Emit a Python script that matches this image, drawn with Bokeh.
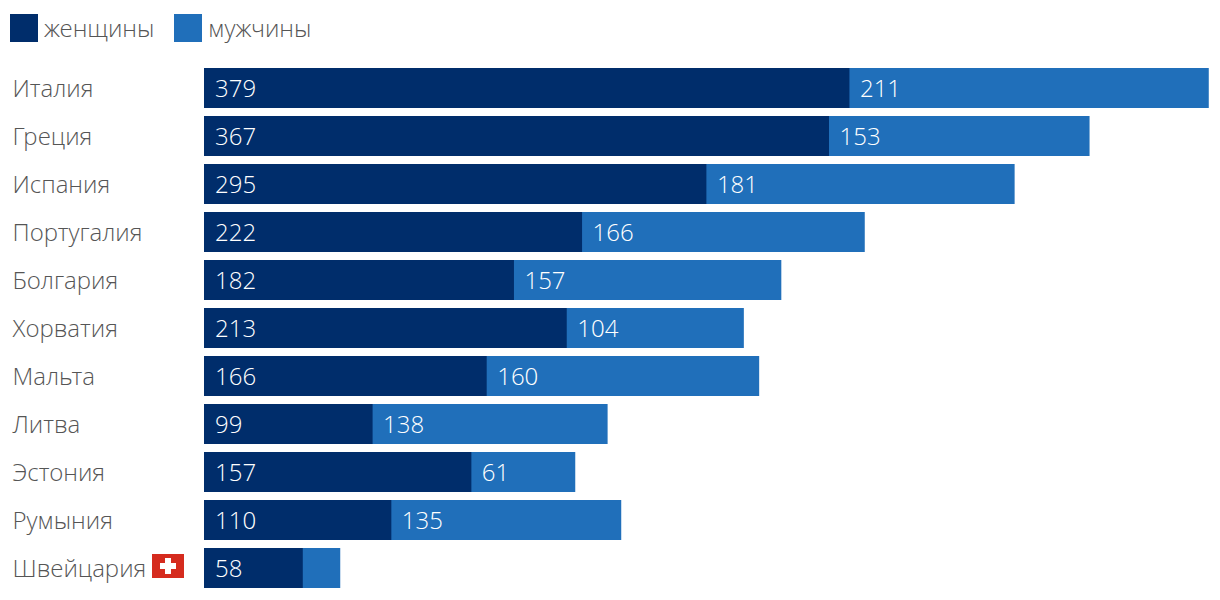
from bokeh.plotting import figure
from bokeh.models import ColumnDataSource, Range1d, Legend, LegendItem, BoxAnnotation
from bokeh.core.properties import value
from bokeh.embed import file_html
from bokeh.resources import INLINE

countries = ["Италия", "Греция", "Испания", "Португалия", "Болгария", "Хорватия",
             "Мальта", "Литва", "Эстония", "Румыния", "Швейцария"]
women = [379, 367, 295, 222, 182, 213, 166, 99, 157, 110, 58]
men = [211, 153, 181, 166, 157, 104, 160, 138, 61, 135, 22]
men_labels = ["211", "153", "181", "166", "157", "104", "160", "138", "61", "135", ""]
series_names = ["женщины", "мужчины"]

DARK = "#002D6B"
BLUE = "#206FBA"
TEXT = "#555555"
FONT_NAME = "Open Sans Light"
FONT = value(FONT_NAME)
W, H = 1212, 592

rows = list(range(len(countries)))
src = ColumnDataSource(dict(
    row=rows, name=countries, women=women, men=men,
    total=[a + b for a, b in zip(women, men)],
    women_label=[str(v) for v in women], men_label=men_labels,
))

scale = 1.703
# the SVG backend draws with a half-pixel translate, hence the 203.5 / 87.5 origins
p = figure(width=W, height=H, output_backend="svg", toolbar_location=None,
           x_range=Range1d(-203.5 / scale, (W - 203.5) / scale),
           y_range=Range1d((H - 87.5) / 48, -87.5 / 48),
           min_border=0, outline_line_color=None)
p.axis.visible = False
p.grid.visible = False

# the men's bar is painted under the women's one so that no seam shows between them
r2 = p.hbar(y="row", left=0, right="total", height=40 / 48, fill_color=BLUE, line_color=None, source=src)
r1 = p.hbar(y="row", left=0, right="women", height=40 / 48, fill_color=DARK, line_color=None, source=src)

p.text(x=0, y="row", text="name", x_offset=-191.5, y_offset=-1, text_baseline="middle", text_align="left",
       text_font=FONT, text_font_size="24px", text_color=TEXT, source=src)
p.text(x=0, y="row", text="women_label", x_offset=11, text_baseline="middle", text_align="left",
       text_font=FONT, text_font_size="24px", text_color="white", source=src)
p.text(x="women", y="row", text="men_label", x_offset=10.5, text_baseline="middle", text_align="left",
       text_font=FONT, text_font_size="24px", text_color="white", source=src)

legend = Legend(items=[LegendItem(label=series_names[0], renderers=[r1]),
                       LegendItem(label=series_names[1], renderers=[r2])],
                orientation="horizontal", location=(6, H - 44.5), margin=0, padding=0,
                spacing=16, glyph_width=35, glyph_height=35, label_standoff=3,
                label_text_font=FONT_NAME, label_text_font_size="24px",
                label_text_color=TEXT, border_line_color=None, background_fill_alpha=0)
p.add_layout(legend)

# Swiss flag beside the last label
for l, r, t, b, c in [(152, 184, 554, 578, "#D52B1E"),
                      (160, 176, 563, 569, "white"),
                      (165, 171, 558, 574, "white")]:
    p.add_layout(BoxAnnotation(left=l - 0.5, right=r - 0.5, top=H - t + 0.5, bottom=H - b + 0.5,
                               left_units="screen", right_units="screen",
                               top_units="screen", bottom_units="screen", fill_color=c, fill_alpha=1,
                               line_color=None, level="overlay"))

open("out.html", "w").write(file_html(p, INLINE))
